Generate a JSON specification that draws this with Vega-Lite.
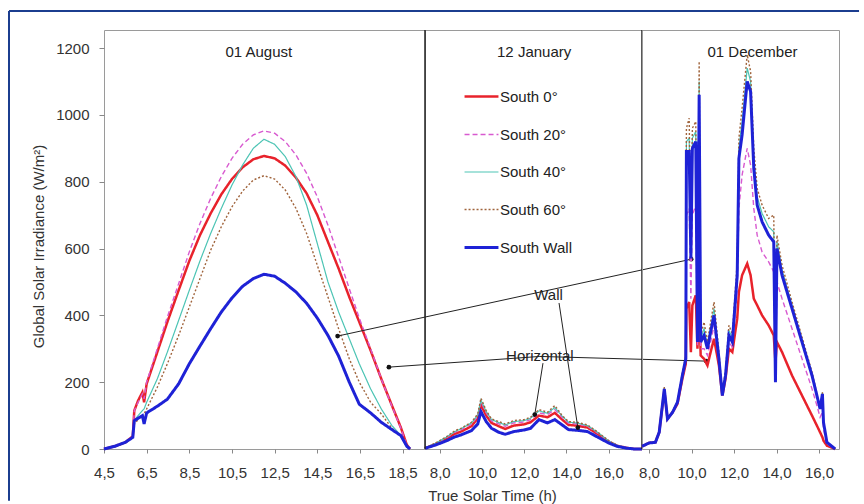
{
  "$schema": "https://vega.github.io/schema/vega-lite/v6.json",
  "autosize": {"type": "pad"},
  "padding": {"left": 7, "top": 9, "right": 0, "bottom": 0},
  "background": "white",
  "spacing": 0,
  "bounds": "flush",
  "config": {
    "font": "Liberation Sans",
    "view": {"stroke": "#9a9a9a", "strokeWidth": 1},
    "axis": {"grid": false, "domain": false, "labelFont": "Liberation Sans", "labelFontSize": 15, "labelColor": "#333333", "tickColor": "#888888", "titleFont": "Liberation Sans", "titleFontSize": 15, "titleFontWeight": "normal", "titleColor": "#333333"},
    "legend": {"orient": "none", "legendX": 359, "legendY": 48, "title": null, "symbolType": "stroke", "symbolSize": 1150, "labelFontSize": 15, "labelColor": "#222222", "labelFont": "Liberation Sans", "rowPadding": 11.5, "labelOffset": 0}
  },
  "datasets": {
    "aug": [
      {"t":4.5,"South 0°":0,"South 20°":0,"South 40°":0,"South 60°":0,"South Wall":0},
      {"t":5.0,"South 0°":8,"South 20°":8,"South 40°":7,"South 60°":7,"South Wall":8},
      {"t":5.5,"South 0°":20,"South 20°":20,"South 40°":19,"South 60°":18,"South Wall":20},
      {"t":5.85,"South 0°":38,"South 20°":38,"South 40°":36,"South 60°":35,"South Wall":35},
      {"t":5.92,"South 0°":115,"South 20°":115,"South 40°":85,"South 60°":75,"South Wall":85},
      {"t":6.1,"South 0°":145,"South 20°":140,"South 40°":100,"South 60°":88,"South Wall":92},
      {"t":6.3,"South 0°":170,"South 20°":165,"South 40°":115,"South 60°":100,"South Wall":100},
      {"t":6.38,"South 0°":140,"South 20°":150,"South 40°":120,"South 60°":105,"South Wall":75},
      {"t":6.5,"South 0°":195,"South 20°":200,"South 40°":140,"South 60°":120,"South Wall":108},
      {"t":7.0,"South 0°":290,"South 20°":300,"South 40°":210,"South 60°":185,"South Wall":128},
      {"t":7.47,"South 0°":380,"South 20°":395,"South 40°":290,"South 60°":255,"South Wall":149},
      {"t":8.0,"South 0°":475,"South 20°":495,"South 40°":385,"South 60°":340,"South Wall":195},
      {"t":8.5,"South 0°":563,"South 20°":590,"South 40°":475,"South 60°":425,"South Wall":255},
      {"t":9.0,"South 0°":640,"South 20°":675,"South 40°":563,"South 60°":510,"South Wall":308},
      {"t":9.5,"South 0°":705,"South 20°":750,"South 40°":645,"South 60°":595,"South Wall":360},
      {"t":10.0,"South 0°":762,"South 20°":815,"South 40°":720,"South 60°":665,"South Wall":410},
      {"t":10.5,"South 0°":808,"South 20°":870,"South 40°":790,"South 60°":725,"South Wall":452},
      {"t":11.0,"South 0°":843,"South 20°":912,"South 40°":850,"South 60°":772,"South Wall":487},
      {"t":11.5,"South 0°":867,"South 20°":940,"South 40°":900,"South 60°":805,"South Wall":510},
      {"t":12.0,"South 0°":877,"South 20°":952,"South 40°":927,"South 60°":818,"South Wall":523},
      {"t":12.5,"South 0°":870,"South 20°":945,"South 40°":912,"South 60°":808,"South Wall":517},
      {"t":13.0,"South 0°":848,"South 20°":920,"South 40°":875,"South 60°":775,"South Wall":496},
      {"t":13.5,"South 0°":812,"South 20°":880,"South 40°":815,"South 60°":720,"South Wall":470},
      {"t":14.0,"South 0°":765,"South 20°":825,"South 40°":730,"South 60°":645,"South Wall":436},
      {"t":14.5,"South 0°":700,"South 20°":755,"South 40°":615,"South 60°":550,"South Wall":392},
      {"t":15.0,"South 0°":620,"South 20°":670,"South 40°":500,"South 60°":455,"South Wall":340},
      {"t":15.5,"South 0°":540,"South 20°":575,"South 40°":410,"South 60°":360,"South Wall":278},
      {"t":16.0,"South 0°":455,"South 20°":480,"South 40°":330,"South 60°":270,"South Wall":200},
      {"t":16.47,"South 0°":380,"South 20°":392,"South 40°":255,"South 60°":200,"South Wall":134},
      {"t":17.0,"South 0°":295,"South 20°":300,"South 40°":180,"South 60°":140,"South Wall":108},
      {"t":17.5,"South 0°":210,"South 20°":210,"South 40°":120,"South 60°":105,"South Wall":80},
      {"t":18.0,"South 0°":130,"South 20°":128,"South 40°":70,"South 60°":62,"South Wall":58},
      {"t":18.42,"South 0°":64,"South 20°":62,"South 40°":40,"South 60°":40,"South Wall":40},
      {"t":18.7,"South 0°":12,"South 20°":10,"South 40°":8,"South 60°":6,"South Wall":8},
      {"t":18.85,"South 0°":0,"South 20°":0,"South 40°":0,"South 60°":0,"South Wall":0}
    ],
    "jan": [
      {"t":7.3,"South 0°":2,"South 20°":2,"South 40°":3,"South 60°":3,"South Wall":2},
      {"t":7.8,"South 0°":15,"South 20°":16,"South 40°":17,"South 60°":18,"South Wall":12},
      {"t":8.3,"South 0°":30,"South 20°":33,"South 40°":35,"South 60°":36,"South Wall":24},
      {"t":8.7,"South 0°":45,"South 20°":50,"South 40°":52,"South 60°":54,"South Wall":36},
      {"t":9.0,"South 0°":52,"South 20°":57,"South 40°":60,"South 60°":62,"South Wall":42},
      {"t":9.5,"South 0°":68,"South 20°":74,"South 40°":78,"South 60°":80,"South Wall":55},
      {"t":9.8,"South 0°":92,"South 20°":98,"South 40°":102,"South 60°":105,"South Wall":75},
      {"t":9.95,"South 0°":132,"South 20°":141,"South 40°":146,"South 60°":152,"South Wall":112},
      {"t":10.2,"South 0°":100,"South 20°":108,"South 40°":112,"South 60°":115,"South Wall":82},
      {"t":10.45,"South 0°":78,"South 20°":84,"South 40°":88,"South 60°":90,"South Wall":62},
      {"t":10.8,"South 0°":68,"South 20°":75,"South 40°":79,"South 60°":82,"South Wall":50},
      {"t":11.1,"South 0°":60,"South 20°":68,"South 40°":72,"South 60°":75,"South Wall":44},
      {"t":11.5,"South 0°":70,"South 20°":78,"South 40°":82,"South 60°":85,"South Wall":52},
      {"t":12.0,"South 0°":74,"South 20°":81,"South 40°":85,"South 60°":88,"South Wall":57},
      {"t":12.3,"South 0°":80,"South 20°":88,"South 40°":92,"South 60°":95,"South Wall":62},
      {"t":12.7,"South 0°":100,"South 20°":108,"South 40°":114,"South 60°":118,"South Wall":88},
      {"t":13.1,"South 0°":95,"South 20°":103,"South 40°":107,"South 60°":110,"South Wall":78},
      {"t":13.45,"South 0°":108,"South 20°":118,"South 40°":124,"South 60°":130,"South Wall":88},
      {"t":13.8,"South 0°":88,"South 20°":94,"South 40°":98,"South 60°":100,"South Wall":72},
      {"t":14.1,"South 0°":72,"South 20°":77,"South 40°":80,"South 60°":82,"South Wall":58},
      {"t":14.5,"South 0°":70,"South 20°":75,"South 40°":78,"South 60°":80,"South Wall":56},
      {"t":15.0,"South 0°":64,"South 20°":68,"South 40°":70,"South 60°":72,"South Wall":52},
      {"t":15.5,"South 0°":44,"South 20°":47,"South 40°":49,"South 60°":50,"South Wall":35},
      {"t":16.0,"South 0°":22,"South 20°":24,"South 40°":24,"South 60°":25,"South Wall":18},
      {"t":16.4,"South 0°":10,"South 20°":11,"South 40°":11,"South 60°":11,"South Wall":8},
      {"t":16.8,"South 0°":4,"South 20°":4,"South 40°":4,"South 60°":4,"South Wall":3},
      {"t":17.2,"South 0°":0,"South 20°":0,"South 40°":0,"South 60°":0,"South Wall":0},
      {"t":17.58,"South 0°":0,"South 20°":0,"South 40°":0,"South 60°":0,"South Wall":0}
    ],
    "dec": [
      {"t":7.67,"South 0°":8,"South 20°":8,"South 40°":8,"South 60°":9,"South Wall":8},
      {"t":8.0,"South 0°":18,"South 20°":18,"South 40°":18,"South 60°":19,"South Wall":18},
      {"t":8.3,"South 0°":20,"South 20°":20,"South 40°":20,"South 60°":21,"South Wall":20},
      {"t":8.48,"South 0°":50,"South 20°":50,"South 40°":51,"South 60°":52,"South Wall":50},
      {"t":8.72,"South 0°":175,"South 20°":178,"South 40°":182,"South 60°":185,"South Wall":180},
      {"t":8.87,"South 0°":90,"South 20°":90,"South 40°":91,"South 60°":92,"South Wall":90},
      {"t":9.11,"South 0°":110,"South 20°":110,"South 40°":111,"South 60°":112,"South Wall":110},
      {"t":9.34,"South 0°":135,"South 20°":138,"South 40°":142,"South 60°":145,"South Wall":140},
      {"t":9.57,"South 0°":210,"South 20°":215,"South 40°":224,"South 60°":228,"South Wall":220},
      {"t":9.73,"South 0°":255,"South 20°":262,"South 40°":275,"South 60°":280,"South Wall":270},
      {"t":9.76,"South 0°":420,"South 20°":700,"South 40°":920,"South 60°":960,"South Wall":890},
      {"t":9.89,"South 0°":440,"South 20°":720,"South 40°":930,"South 60°":990,"South Wall":890},
      {"t":9.97,"South 0°":290,"South 20°":450,"South 40°":580,"South 60°":600,"South Wall":570},
      {"t":10.04,"South 0°":430,"South 20°":700,"South 40°":930,"South 60°":960,"South Wall":900},
      {"t":10.2,"South 0°":460,"South 20°":730,"South 40°":950,"South 60°":980,"South Wall":920},
      {"t":10.28,"South 0°":300,"South 20°":310,"South 40°":330,"South 60°":340,"South Wall":320},
      {"t":10.36,"South 0°":470,"South 20°":800,"South 40°":1100,"South 60°":1160,"South Wall":1060},
      {"t":10.43,"South 0°":280,"South 20°":300,"South 40°":330,"South 60°":340,"South Wall":320},
      {"t":10.59,"South 0°":270,"South 20°":300,"South 40°":360,"South 60°":380,"South Wall":340},
      {"t":10.75,"South 0°":250,"South 20°":280,"South 40°":310,"South 60°":320,"South Wall":300},
      {"t":10.9,"South 0°":290,"South 20°":320,"South 40°":365,"South 60°":380,"South Wall":350},
      {"t":11.06,"South 0°":330,"South 20°":370,"South 40°":420,"South 60°":440,"South Wall":400},
      {"t":11.29,"South 0°":250,"South 20°":260,"South 40°":280,"South 60°":290,"South Wall":270},
      {"t":11.45,"South 0°":160,"South 20°":160,"South 40°":165,"South 60°":170,"South Wall":160},
      {"t":11.6,"South 0°":210,"South 20°":215,"South 40°":228,"South 60°":235,"South Wall":220},
      {"t":11.76,"South 0°":300,"South 20°":320,"South 40°":355,"South 60°":370,"South Wall":340},
      {"t":11.92,"South 0°":290,"South 20°":305,"South 40°":332,"South 60°":345,"South Wall":320},
      {"t":12.15,"South 0°":390,"South 20°":470,"South 40°":540,"South 60°":560,"South Wall":520},
      {"t":12.23,"South 0°":470,"South 20°":720,"South 40°":900,"South 60°":930,"South Wall":870},
      {"t":12.38,"South 0°":520,"South 20°":820,"South 40°":980,"South 60°":1020,"South Wall":940},
      {"t":12.62,"South 0°":555,"South 20°":900,"South 40°":1140,"South 60°":1180,"South Wall":1100},
      {"t":12.78,"South 0°":520,"South 20°":850,"South 40°":1100,"South 60°":1130,"South Wall":1070},
      {"t":12.93,"South 0°":450,"South 20°":720,"South 40°":870,"South 60°":900,"South Wall":840},
      {"t":13.09,"South 0°":430,"South 20°":640,"South 40°":755,"South 60°":780,"South Wall":730},
      {"t":13.32,"South 0°":400,"South 20°":590,"South 40°":705,"South 60°":730,"South Wall":680},
      {"t":13.63,"South 0°":370,"South 20°":560,"South 40°":665,"South 60°":690,"South Wall":640},
      {"t":13.87,"South 0°":340,"South 20°":530,"South 40°":650,"South 60°":700,"South Wall":620},
      {"t":13.95,"South 0°":260,"South 20°":230,"South 40°":210,"South 60°":220,"South Wall":200},
      {"t":14.02,"South 0°":320,"South 20°":500,"South 40°":620,"South 60°":640,"South Wall":600},
      {"t":14.26,"South 0°":290,"South 20°":450,"South 40°":535,"South 60°":550,"South Wall":520},
      {"t":14.73,"South 0°":220,"South 20°":360,"South 40°":430,"South 60°":440,"South Wall":420},
      {"t":15.2,"South 0°":160,"South 20°":270,"South 40°":328,"South 60°":335,"South Wall":320},
      {"t":15.67,"South 0°":100,"South 20°":180,"South 40°":225,"South 60°":230,"South Wall":220},
      {"t":15.9,"South 0°":70,"South 20°":130,"South 40°":162,"South 60°":165,"South Wall":160},
      {"t":16.05,"South 0°":50,"South 20°":95,"South 40°":122,"South 60°":125,"South Wall":120},
      {"t":16.16,"South 0°":35,"South 20°":110,"South 40°":168,"South 60°":170,"South Wall":165},
      {"t":16.21,"South 0°":25,"South 20°":60,"South 40°":81,"South 60°":82,"South Wall":80},
      {"t":16.37,"South 0°":10,"South 20°":15,"South 40°":20,"South 60°":20,"South Wall":20},
      {"t":16.76,"South 0°":0,"South 20°":0,"South 40°":0,"South 60°":0,"South Wall":0}
    ]
  },
  "hconcat": [
    {
      "width": 321,
      "height": 419,
      "layer": [
        {
          "data": {"values": [
            {"t": 0.046, "value": 1310.6, "t2": 39.9, "value2": 1310.6},
            {"t": 0.046, "value": 1310.6, "t2": 0.046, "value2": -155}
          ]},
          "mark": {"type": "rule", "color": "#1b3d8f", "strokeWidth": 2},
          "encoding": {
            "x": {"field": "t", "type": "quantitative", "scale": {"domain": [4.5, 19.55], "nice": false, "zero": false}},
            "y": {"field": "value", "type": "quantitative", "scale": {"domain": [0, 1254], "nice": false}},
            "x2": {"field": "t2"},
            "y2": {"field": "value2"}
          }
        },
        {
          "data": {"name": "aug"},
          "transform": [{"fold": ["South 0°","South 20°","South 40°","South 60°","South Wall"], "as": ["series","value"]}],
          "mark": {"type": "line"},
          "encoding": {
            "x": {"field": "t", "type": "quantitative", "scale": {"domain": [4.5, 19.55], "nice": false, "zero": false},
                  "axis": {"title": null, "values": [4.5,5.5,6.5,7.5,8.5,9.5,10.5,11.5,12.5,13.5,14.5,15.5,16.5,17.5,18.5,19.5], "labelExpr": "(datum.value - 4.5) % 2 == 0 && datum.value < 19 ? replace(format(datum.value, '.1f'), '.', ',') : ''", "tickSize": 4, "labelPadding": 12, "labelFlush": false}},
            "y": {"field": "value", "type": "quantitative", "scale": {"domain": [0, 1254], "nice": false},
                  "axis": {"title": "Global Solar Irradiance (W/m²)", "format": "d", "values": [0,200,400,600,800,1000,1200], "tickSize": 5, "labelPadding": 10, "titleX": -66, "titleY": 216, "titleBaseline": "middle"}},
            "color": {"field": "series", "type": "nominal", "scale": {"domain": ["South 0°","South 20°","South 40°","South 60°","South Wall"], "range": ["#e8222b","#d85ad0","#4cc4b4","#a0643c","#1e22d6"]}},
            "strokeDash": {"field": "series", "type": "nominal", "scale": {"domain": ["South 0°","South 20°","South 40°","South 60°","South Wall"], "range": [[1,0],[5,3],[1,0],[2,2],[1,0]]}},
            "strokeWidth": {"field": "series", "type": "nominal", "scale": {"type": "ordinal", "domain": ["South 0°","South 20°","South 40°","South 60°","South Wall"], "range": [2.5,1.4,1.2,1.4,3]}}
          }
        },
        {
          "data": {"values": [{"t": 11.76, "value": 1187, "label": "01 August"}]},
          "mark": {"type": "text", "fontSize": 15, "color": "#222222", "baseline": "middle", "align": "center"},
          "encoding": {
            "x": {"field": "t", "type": "quantitative", "scale": {"domain": [4.5, 19.55], "nice": false, "zero": false}},
            "y": {"field": "value", "type": "quantitative", "scale": {"domain": [0, 1254], "nice": false}},
            "text": {"field": "label"}
          }
        }
      ]
    },
    {
      "width": 217,
      "height": 419,
      "layer": [
        {
          "data": {"name": "jan"},
          "transform": [{"fold": ["South 0°","South 20°","South 40°","South 60°","South Wall"], "as": ["series","value"]}],
          "mark": {"type": "line"},
          "encoding": {
            "x": {"field": "t", "type": "quantitative", "scale": {"domain": [7.3, 17.58], "nice": false, "zero": false},
                  "axis": {"title": "True Solar Time (h)", "values": [8,9,10,11,12,13,14,15,16,17], "labelExpr": "datum.value % 2 == 0 ? replace(format(datum.value, '.1f'), '.', ',') : ''", "tickSize": 4, "labelPadding": 12, "labelFlush": false, "titleX": 67, "titleY": 46, "titleBaseline": "middle", "titleAlign": "center"}},
            "y": {"field": "value", "type": "quantitative", "scale": {"domain": [0, 1254], "nice": false}, "axis": null},
            "color": {"field": "series", "type": "nominal", "scale": {"domain": ["South 0°","South 20°","South 40°","South 60°","South Wall"], "range": ["#e8222b","#d85ad0","#4cc4b4","#a0643c","#1e22d6"]}},
            "strokeDash": {"field": "series", "type": "nominal", "scale": {"domain": ["South 0°","South 20°","South 40°","South 60°","South Wall"], "range": [[1,0],[5,3],[1,0],[2,2],[1,0]]}},
            "strokeWidth": {"field": "series", "type": "nominal", "scale": {"type": "ordinal", "domain": ["South 0°","South 20°","South 40°","South 60°","South Wall"], "range": [2.5,1.4,1.2,1.4,3]}}
          }
        },
        {
          "data": {"values": [{"t": 7.3}, {"t": 17.58}]},
          "mark": {"type": "rule", "color": "#222222", "strokeWidth": 1.5},
          "encoding": {
            "x": {"field": "t", "type": "quantitative", "scale": {"domain": [7.3, 17.58], "nice": false, "zero": false}}
          }
        },
        {
          "data": {"values": [
            {"t": 3.16, "value": 338, "t2": 19.91, "value2": 568},
            {"t": 13.65, "value": 437, "t2": 14.54, "value2": 64},
            {"t": 5.59, "value": 245, "t2": 12.74, "value2": 277},
            {"t": 12.74, "value": 277, "t2": 20.62, "value2": 263},
            {"t": 12.89, "value": 257, "t2": 12.5, "value2": 103}
          ]},
          "mark": {"type": "rule", "color": "#222222", "strokeWidth": 1},
          "encoding": {
            "x": {"field": "t", "type": "quantitative", "scale": {"domain": [7.3, 17.58], "nice": false, "zero": false}},
            "y": {"field": "value", "type": "quantitative", "scale": {"domain": [0, 1254], "nice": false}},
            "x2": {"field": "t2"},
            "y2": {"field": "value2"}
          }
        },
        {
          "data": {"values": [
            {"t": 3.16, "value": 338}, {"t": 5.59, "value": 245}, {"t": 12.5, "value": 103},
            {"t": 14.54, "value": 64}, {"t": 19.91, "value": 568}, {"t": 20.62, "value": 263}
          ]},
          "mark": {"type": "point", "filled": true, "color": "#111111", "size": 22, "opacity": 1},
          "encoding": {
            "x": {"field": "t", "type": "quantitative", "scale": {"domain": [7.3, 17.58], "nice": false, "zero": false}},
            "y": {"field": "value", "type": "quantitative", "scale": {"domain": [0, 1254], "nice": false}}
          }
        },
        {
          "data": {"values": [
            {"t": 12.47, "value": 1189, "label": "12 January"},
            {"t": 13.15, "value": 462, "label": "Wall"},
            {"t": 12.74, "value": 277, "label": "Horizontal"}
          ]},
          "mark": {"type": "text", "fontSize": 15, "color": "#222222", "baseline": "middle", "align": "center"},
          "encoding": {
            "x": {"field": "t", "type": "quantitative", "scale": {"domain": [7.3, 17.58], "nice": false, "zero": false}},
            "y": {"field": "value", "type": "quantitative", "scale": {"domain": [0, 1254], "nice": false}},
            "text": {"field": "label"}
          }
        }
      ]
    },
    {
      "width": 197,
      "height": 419,
      "layer": [
        {
          "data": {"name": "dec"},
          "transform": [{"fold": ["South 0°","South 20°","South 40°","South 60°","South Wall"], "as": ["series","value"]}],
          "mark": {"type": "line"},
          "encoding": {
            "x": {"field": "t", "type": "quantitative", "scale": {"domain": [7.67, 16.94], "nice": false, "zero": false},
                  "axis": {"title": null, "values": [8,9,10,11,12,13,14,15,16], "labelExpr": "datum.value % 2 == 0 ? replace(format(datum.value, '.1f'), '.', ',') : ''", "tickSize": 4, "labelPadding": 12, "labelFlush": false}},
            "y": {"field": "value", "type": "quantitative", "scale": {"domain": [0, 1254], "nice": false}, "axis": null},
            "color": {"field": "series", "type": "nominal", "scale": {"domain": ["South 0°","South 20°","South 40°","South 60°","South Wall"], "range": ["#e8222b","#d85ad0","#4cc4b4","#a0643c","#1e22d6"]}},
            "strokeDash": {"field": "series", "type": "nominal", "scale": {"domain": ["South 0°","South 20°","South 40°","South 60°","South Wall"], "range": [[1,0],[5,3],[1,0],[2,2],[1,0]]}},
            "strokeWidth": {"field": "series", "type": "nominal", "scale": {"type": "ordinal", "domain": ["South 0°","South 20°","South 40°","South 60°","South Wall"], "range": [2.5,1.4,1.2,1.4,3]}}
          }
        },
        {
          "data": {"values": [{"t": 12.87, "value": 1188, "label": "01 December"}]},
          "mark": {"type": "text", "fontSize": 15, "color": "#222222", "baseline": "middle", "align": "center"},
          "encoding": {
            "x": {"field": "t", "type": "quantitative", "scale": {"domain": [7.67, 16.94], "nice": false, "zero": false}},
            "y": {"field": "value", "type": "quantitative", "scale": {"domain": [0, 1254], "nice": false}},
            "text": {"field": "label"}
          }
        }
      ]
    }
  ]
}
